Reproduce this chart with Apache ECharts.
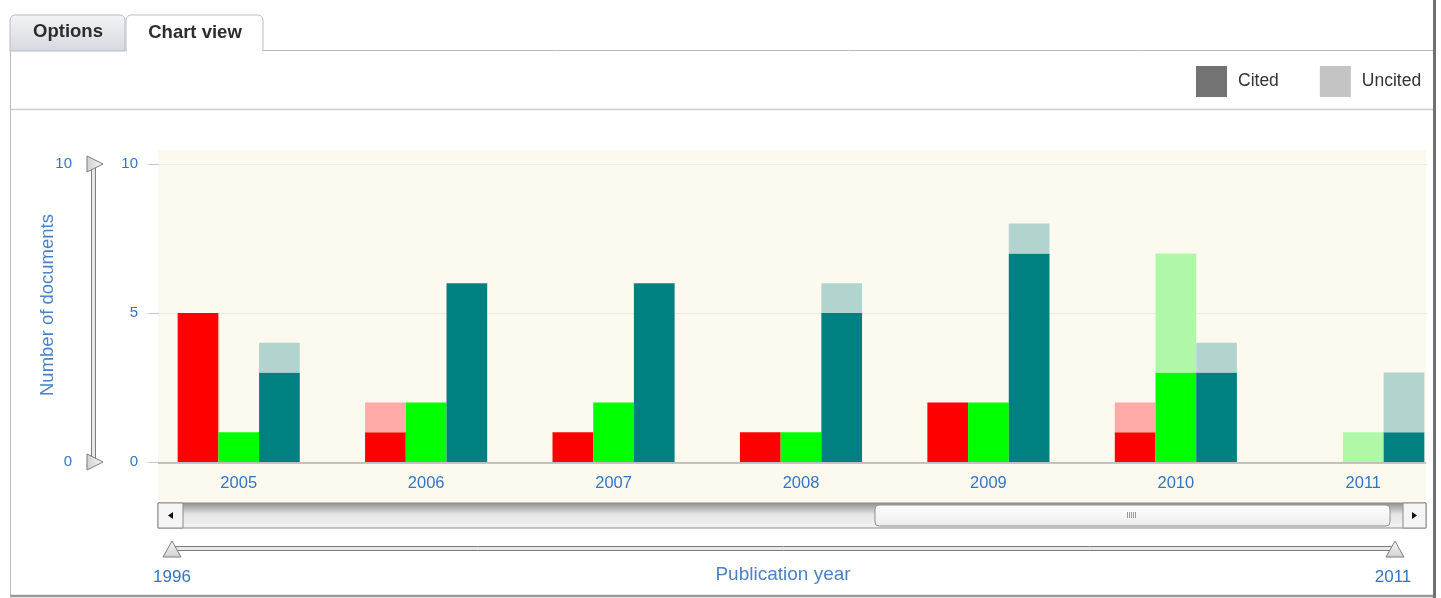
<!DOCTYPE html>
<html><head><meta charset="utf-8">
<script src="https://cdn.jsdelivr.net/npm/echarts@6/dist/echarts.min.js"></script>
<style>html,body{margin:0;padding:0;background:#fff;overflow:hidden;width:1441px;height:598px;}#c{width:1500px;height:598px;}</style>
</head><body><div id="c"></div>
<script>
const years = ['2005','2006','2007','2008','2009','2010','2011'];
const redCited     = [5,1,1,1,2,1,0];
const redUncited   = [0,1,0,0,0,1,0];
const greenCited   = [1,2,2,1,2,3,0];
const greenUncited = [0,0,0,0,0,4,1];
const tealCited    = [3,6,6,5,7,3,1];
const tealUncited  = [1,0,0,1,1,1,2];
const rangeStart = '1996', rangeEnd = '2011';

const FONT = '"Liberation Sans", Arial, Helvetica, sans-serif';
const BLUE = '#3275c4';
const chart = echarts.init(document.getElementById('c'), null, {renderer:'canvas'});

function bar(name, data, stack, color){
  return {type:'bar', name, data, stack, barWidth:40.7, barGap:'0%',
    itemStyle:{color}, emphasis:{disabled:true}, animation:false};
}
const option = {
  animation:false,
  textStyle:{fontFamily:FONT},
  legend:{left:1196, top:66, itemWidth:31, itemHeight:31, itemGap:41, padding:0,
    icon:'rect', data:['Cited','Uncited'],
    textStyle:{fontSize:17.5, color:'#333', fontFamily:FONT, padding:[0,0,0,6]}},
  grid:{left:145, top:164, width:1312, height:298, containLabel:false},
  xAxis:{type:'category', data:years, boundaryGap:true,
    axisLine:{show:false}, axisTick:{show:false},
    axisLabel:{color:BLUE, fontSize:16.5, margin:13, fontFamily:FONT}},
  yAxis:[
    {type:'value', min:0, max:10, interval:5, offset:-14,
      axisLine:{show:false},
      axisTick:{show:true, length:10, lineStyle:{color:'#b9c9de', width:1}},
      axisLabel:{color:BLUE, fontSize:15, margin:21, fontFamily:FONT},
      splitLine:{show:true, lineStyle:{color:'#ecebdf', width:1}}},
    {type:'value', min:0, max:10, interval:10, offset:52, position:'left',
      axisLine:{show:false}, axisTick:{show:false}, splitLine:{show:false},
      axisLabel:{color:BLUE, fontSize:15, margin:21, fontFamily:FONT}}
  ],
  series:[
    bar('Red cited', redCited, 'r', '#ff0000'),
    bar('Red uncited', redUncited, 'r', '#ffaaa6'),
    bar('Green cited', greenCited, 'g', '#00ff00'),
    bar('Green uncited', greenUncited, 'g', '#b0f8a8'),
    bar('Teal cited', tealCited, 't', '#008080'),
    bar('Teal uncited', tealUncited, 't', '#b1d4cf'),
    {type:'line', name:'Cited', data:[], itemStyle:{color:'#737373'}, lineStyle:{color:'#737373'}},
    {type:'line', name:'Uncited', data:[], itemStyle:{color:'#c4c4c4'}, lineStyle:{color:'#c4c4c4'}}
  ]
};
chart.setOption(option);

const y0 = chart.convertToPixel({yAxisIndex:0}, 0);
const y10 = chart.convertToPixel({yAxisIndex:0}, 10);
const plotL = 158, plotR = 1426;
const g = [];
g.push({type:'rect', z:-10, shape:{x:plotL, y:150, width:plotR-plotL, height:353}, style:{fill:'#fcf9ee'}, silent:true});
// tabs
g.push({type:'rect', shape:{x:10, y:15, width:115, height:36, r:[5,5,0,0]},
  style:{fill:new echarts.graphic.LinearGradient(0,0,0,1,[{offset:0,color:'#f2f3f5'},{offset:1,color:'#d6d9df'}]), stroke:'#b8bcc2', lineWidth:1}});
g.push({type:'text', style:{text:'Options', x:68, y:32, align:'center', verticalAlign:'middle', font:'bold 18.5px '+FONT, fill:'#2d2d2d'}});
g.push({type:'rect', shape:{x:126, y:15, width:137, height:36, r:[5,5,0,0]}, style:{fill:'#fff', stroke:'#b8bcc2', lineWidth:1}});
g.push({type:'rect', shape:{x:127, y:48, width:135, height:5}, style:{fill:'#fff'}});
g.push({type:'text', style:{text:'Chart view', x:195, y:33, align:'center', verticalAlign:'middle', font:'bold 18.5px '+FONT, fill:'#2d2d2d'}});
// frame (above the right-side cover)
g.push({type:'rect', z:50, shape:{x:1427, y:0, width:80, height:595}, style:{fill:'#fff'}});
g.push({type:'line', z:52, shape:{x1:263, y1:50.5, x2:1434, y2:50.5}, style:{stroke:'#b8bcc2', lineWidth:1}});
g.push({type:'line', shape:{x1:10.5, y1:51, x2:10.5, y2:597}, style:{stroke:'#b8bcc2', lineWidth:1}});
g.push({type:'line', z:52, shape:{x1:10, y1:109.5, x2:1433, y2:109.5}, style:{stroke:'#c8cccc', lineWidth:1.5}});
g.push({type:'line', z:52, shape:{x1:10, y1:596, x2:1435, y2:596}, style:{stroke:'#9a9a9a', lineWidth:2.5}});
g.push({type:'line', z:53, shape:{x1:1434.5, y1:0, x2:1434.5, y2:598}, style:{stroke:'#707070', lineWidth:3}});
// y-axis title and baseline
g.push({type:'text', x:48, y:305, rotation:Math.PI/2, style:{text:'Number of documents', align:'center', verticalAlign:'middle', font:'18.5px '+FONT, fill:'#4a82c6'}});
g.push({type:'line', z:5, shape:{x1:plotL, y1:y0+1, x2:plotR, y2:y0+1}, style:{stroke:'#b0b0b0', lineWidth:1.5}});
// scrollbar
g.push({type:'rect', shape:{x:plotL, y:503, width:plotR-plotL, height:25},
  style:{fill:new echarts.graphic.LinearGradient(0,0,0,1,[{offset:0,color:'#8e8e8e'},{offset:0.45,color:'#e4e4e4'},{offset:1,color:'#f4f4f4'}]), stroke:'#8a8a8a', lineWidth:1}});
g.push({type:'rect', shape:{x:plotL, y:503, width:25, height:25}, style:{fill:'#f5f5f5', stroke:'#8a8a8a', lineWidth:1}});
g.push({type:'polygon', shape:{points:[[168,515.5],[173,512],[173,519]]}, style:{fill:'#111'}});
g.push({type:'rect', shape:{x:plotR-23, y:503, width:23, height:25}, style:{fill:'#f5f5f5', stroke:'#8a8a8a', lineWidth:1}});
g.push({type:'polygon', shape:{points:[[1417,515.5],[1412,512],[1412,519]]}, style:{fill:'#111'}});
g.push({type:'rect', shape:{x:875, y:505, width:515, height:21, r:4},
  style:{fill:new echarts.graphic.LinearGradient(0,0,0,1,[{offset:0,color:'#ffffff'},{offset:1,color:'#ececec'}]), stroke:'#8f8f8f', lineWidth:1}});
for (let i=0;i<5;i++) g.push({type:'line', shape:{x1:1127.5+i*2, y1:512, x2:1127.5+i*2, y2:518}, style:{stroke:'#999', lineWidth:1}});
// bottom range slider
g.push({type:'rect', shape:{x:172, y:546.5, width:1223, height:4}, style:{fill:'#e8e8e8', stroke:'#7d7d7d', lineWidth:1}});
function upTri(cx){ return {type:'polygon', shape:{points:[[cx,541],[cx+9,557],[cx-9,557]]},
  style:{fill:new echarts.graphic.LinearGradient(0,0,0,1,[{offset:0,color:'#fafafa'},{offset:1,color:'#cfcfcf'}]), stroke:'#7d7d7d', lineWidth:1}}; }
g.push(upTri(172)); g.push(upTri(1395));
g.push({type:'text', style:{text:rangeStart, x:172, y:577, align:'center', verticalAlign:'middle', font:'17px '+FONT, fill:BLUE}});
g.push({type:'text', style:{text:rangeEnd, x:1393, y:577, align:'center', verticalAlign:'middle', font:'17px '+FONT, fill:BLUE}});
g.push({type:'text', style:{text:'Publication year', x:783, y:575, align:'center', verticalAlign:'middle', font:'19px '+FONT, fill:'#4a82c6'}});
// left vertical range slider
g.push({type:'rect', shape:{x:91.5, y:y10, width:4, height:y0-y10}, style:{fill:'#e8e8e8', stroke:'#7d7d7d', lineWidth:1}});
function rightTri(cy){ return {type:'polygon', shape:{points:[[103,cy],[87,cy-8],[87,cy+8]]},
  style:{fill:new echarts.graphic.LinearGradient(0,0,1,0,[{offset:0,color:'#cfcfcf'},{offset:1,color:'#fafafa'}]), stroke:'#7d7d7d', lineWidth:1}}; }
g.push(rightTri(y10)); g.push(rightTri(y0));
chart.setOption({graphic:{elements:g}});
</script></body></html>
